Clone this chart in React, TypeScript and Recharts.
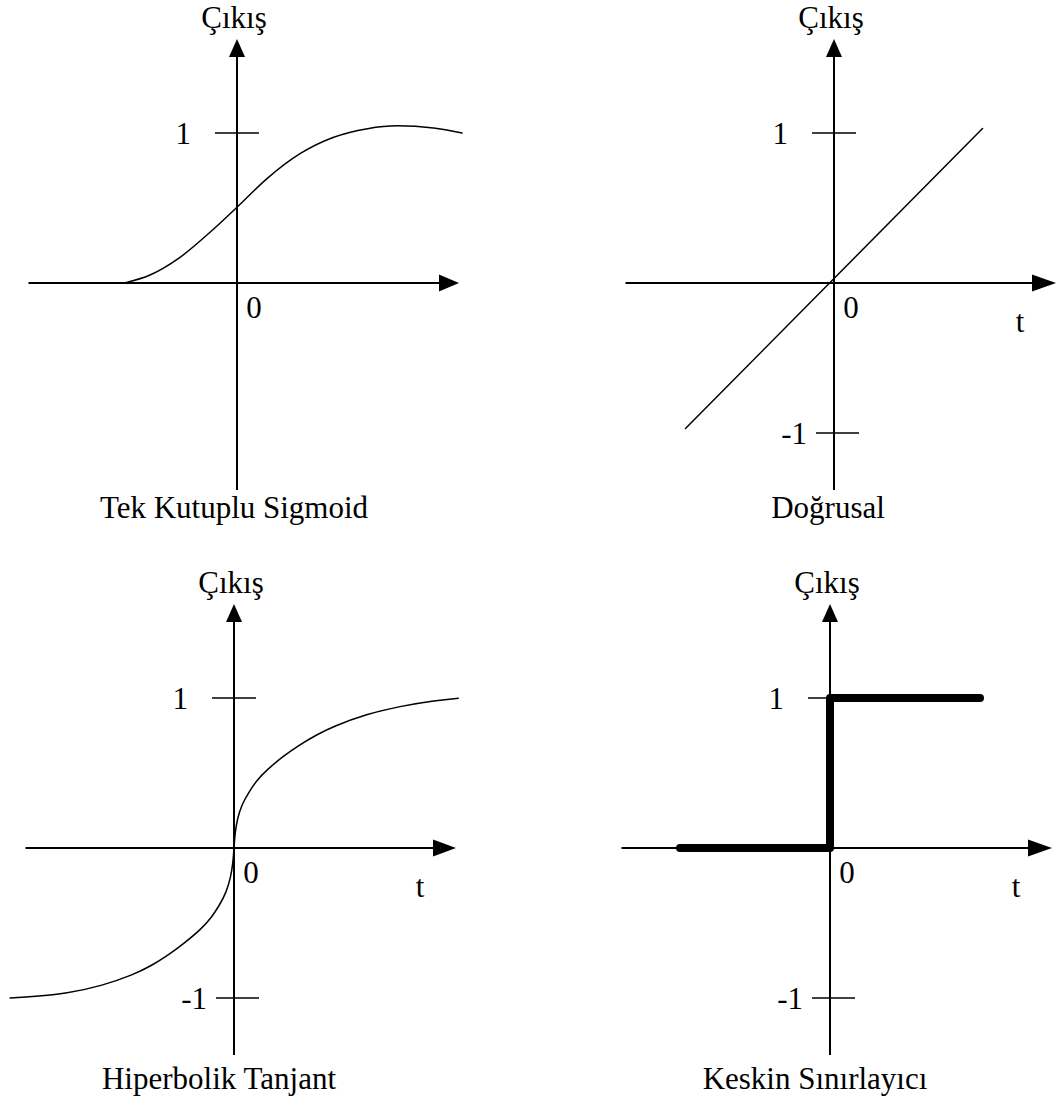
import { LineChart, Line, XAxis, YAxis, ReferenceLine, ReferenceDot } from 'recharts';

const PX = 150; // pixels per unit, same on both axes
const INK = '#000';
const FONT = '"Liberation Serif", "Times New Roman", serif';

// axis extents shared by all four diagrams (arrow tip at the max end)
const tAxis = [-1.39, 1.48];
const outAxis = [-1.38, 1.627];

// Tek Kutuplu Sigmoid
const sigmoidT = [-0.75, -0.58, -0.38, -0.18, 0, 0.2, 0.42, 0.64, 0.87, 1.07, 1.31, 1.5];
const sigmoidOut = [0, 0.053, 0.171, 0.338, 0.505, 0.696, 0.862, 0.97, 1.029, 1.048, 1.034, 1.0];

// Doğrusal
const linearT = [-0.99, 0.99];
const linearOut = [-0.97, 1.03];

// Hiperbolik Tanjant
const tanhT = [
  -1.493, -1.33, -1.115, -0.884, -0.671, -0.551, -0.44, -0.338, -0.218, -0.151, -0.096, -0.051, -0.022, -0.007,
  0, 0.007, 0.022, 0.051, 0.096, 0.151, 0.218, 0.329, 0.44, 0.551, 0.662, 0.884, 1.107, 1.329, 1.495,
];
const tanhOut = [
  -1.0, -0.99, -0.97, -0.92, -0.845, -0.785, -0.715, -0.64, -0.54, -0.465, -0.38, -0.295, -0.195, -0.1,
  0, 0.1, 0.193, 0.287, 0.368, 0.45, 0.52, 0.613, 0.69, 0.755, 0.811, 0.893, 0.945, 0.982, 0.998,
];

// Keskin Sınırlayıcı
const stepT = [-1, 0, 1];
const stepOut = [0, 1, 1];

const toRows = (t: number[], out: number[]) => t.map((v, i) => ({ t: v, out: out[i] }));

const arrowAxis = (headLen: number, headHalf: number) => (p: any) => {
  const { x1, y1, x2, y2 } = p;
  const len = Math.hypot(x2 - x1, y2 - y1);
  const ux = (x2 - x1) / len;
  const uy = (y2 - y1) / len;
  const bx = x2 - ux * headLen;
  const by = y2 - uy * headLen;
  const nx = -uy;
  const ny = ux;
  return (
    <g>
      <line x1={x1} y1={y1} x2={bx} y2={by} stroke={INK} strokeWidth={2} />
      <polygon
        points={`${x2},${y2} ${bx + nx * headHalf},${by + ny * headHalf} ${bx - nx * headHalf},${by - ny * headHalf}`}
        fill={INK}
      />
    </g>
  );
};

const textAt = (value: string, dx: number, dy: number, anchor = 'middle') => (p: any) => (
  <text
    x={p.cx + dx}
    y={p.cy + dy}
    textAnchor={anchor}
    fontFamily={FONT}
    fontSize={31}
    fill={INK}
  >
    {value}
  </text>
);

const tickMark = (v: number) => (p: any) => {
  const left = v > 0 ? 22 : 18;
  const right = v > 0 ? 22 : 25;
  const gap = v > 0 ? 46 : 27;
  return (
    <g>
      <line x1={p.cx - left} y1={p.cy} x2={p.cx + right} y2={p.cy} stroke={INK} strokeWidth={1.5} />
      <text x={p.cx - gap} y={p.cy + 11} textAnchor="end" fontFamily={FONT} fontSize={31} fill={INK}>
        {v}
      </text>
    </g>
  );
};

interface PanelProps {
  left: number;
  top: number;
  width: number;
  height: number;
  ox: number;
  oy: number;
  rows: { t: number; out: number }[];
  ticks: number[];
  showT: boolean;
  title: string;
  titleDx: number;
  titleDy: number;
  headLen: number;
  curveType: 'monotone' | 'linear' | 'stepAfter' | 'basis';
  strokeWidth: number;
}

function Panel(props: PanelProps) {
  const { left, top, width, height, ox, oy, rows, ticks, showT, title, titleDx, titleDy, headLen, curveType, strokeWidth } = props;
  const xDomain = [(left - ox) / PX, (left + width - ox) / PX];
  const yDomain = [(oy - top - height) / PX, (oy - top) / PX];

  return (
    <div style={{ position: 'absolute', left, top, width, height }}>
      <LineChart width={width} height={height} data={rows} margin={{ top: 0, right: 0, bottom: 0, left: 0 }}>
        <XAxis dataKey="t" type="number" domain={xDomain} allowDataOverflow hide />
        <YAxis type="number" domain={yDomain} allowDataOverflow hide />
        <ReferenceLine
          segment={[{ x: tAxis[0], y: 0 }, { x: tAxis[1], y: 0 }]}
          shape={arrowAxis(headLen, 8.5)}
        />
        <ReferenceLine
          segment={[{ x: 0, y: outAxis[0] }, { x: 0, y: outAxis[1] }]}
          shape={arrowAxis(18, 8)}
        />
        {ticks.map((v) => (
          <ReferenceDot key={v} x={0} y={v} r={0} shape={tickMark(v)} />
        ))}
        <ReferenceDot x={0} y={0} r={0} shape={textAt('0', 17, 35)} />
        {showT && <ReferenceDot x={tAxis[1]} y={0} r={0} shape={textAt('t', -36, 49)} />}
        <ReferenceDot x={0} y={outAxis[1]} r={0} shape={textAt('Çıkış', -3, -11)} />
        <ReferenceDot x={0} y={outAxis[0]} r={0} shape={textAt(title, titleDx, titleDy)} />
        <Line
          dataKey="out"
          type={curveType}
          stroke={INK}
          strokeWidth={strokeWidth}
          strokeLinecap="round"
          strokeLinejoin="round"
          dot={false}
          activeDot={false}
          isAnimationActive={false}
        />
      </LineChart>
    </div>
  );
}

export default function App() {
  return (
    <div style={{ position: 'absolute', left: 0, top: 0, width: 1057, height: 1106, background: '#fff' }}>
      <Panel
        left={0} top={0} width={528} height={560} ox={237} oy={283}
        rows={toRows(sigmoidT, sigmoidOut)} ticks={[1]} showT={false}
        title="Tek Kutuplu Sigmoid" titleDx={-3} titleDy={28} headLen={20}
        curveType="monotone" strokeWidth={1.5}
      />
      <Panel
        left={528} top={0} width={529} height={560} ox={834} oy={283}
        rows={toRows(linearT, linearOut)} ticks={[1, -1]} showT
        title="Doğrusal" titleDx={-6} titleDy={28} headLen={24}
        curveType="linear" strokeWidth={1.5}
      />
      <Panel
        left={0} top={560} width={528} height={546} ox={234} oy={848}
        rows={toRows(tanhT, tanhOut)} ticks={[1, -1]} showT
        title="Hiperbolik Tanjant" titleDx={-15} titleDy={34} headLen={23}
        curveType="basis" strokeWidth={1.5}
      />
      <Panel
        left={528} top={560} width={529} height={546} ox={830} oy={848}
        rows={toRows(stepT, stepOut)} ticks={[1, -1]} showT
        title="Keskin Sınırlayıcı" titleDx={-15} titleDy={34} headLen={24}
        curveType="stepAfter" strokeWidth={8}
      />
    </div>
  );
}
